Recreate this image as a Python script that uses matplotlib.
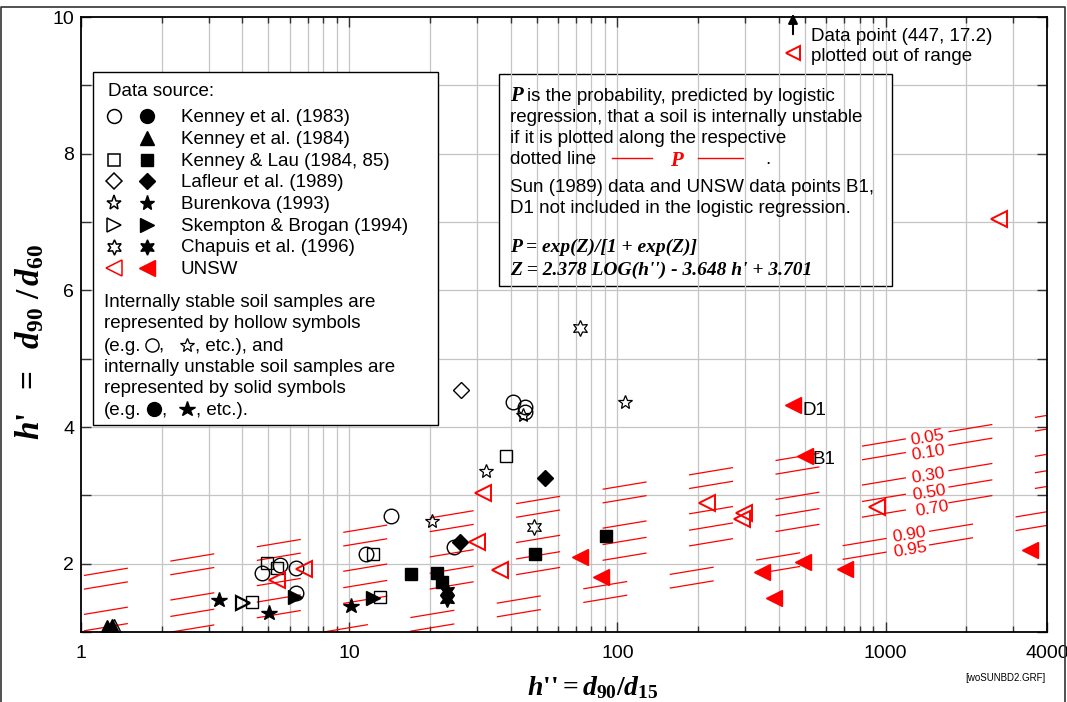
import numpy as np
import matplotlib
matplotlib.use("Agg")
import matplotlib.pyplot as plt
from matplotlib import transforms
from matplotlib.patches import Rectangle
from matplotlib.lines import Line2D
from matplotlib.ticker import FixedLocator, FixedFormatter, NullFormatter

W, H = 1067, 702

plt.rcParams["font.family"] = ["Liberation Sans", "DejaVu Sans"]
plt.rcParams["mathtext.fontset"] = "custom"
plt.rcParams["mathtext.it"] = "Liberation Serif:italic:bold"
plt.rcParams["mathtext.rm"] = "Liberation Serif:bold"
plt.rcParams["mathtext.bf"] = "Liberation Serif:bold"
plt.rcParams["lines.scale_dashes"] = False

RED = "#ff0000"
GRID = "#c4c4c4"
FS = 13.5

# ---- data: h'' = d90/d15 (x), h' = d90/d60 (y) ----
k83_hol_x = [4.73, 5.52, 6.33, 6.33, 11.55, 14.3, 24.6, 40.8, 45.2, 45.2]
k83_hol_y = [1.86, 1.98, 1.94, 1.57, 2.14, 2.70, 2.24, 4.37, 4.29, 4.22]

k84_sol_x = [1.25, 1.305]
k84_sol_y = [1.07, 1.09]
k84_hol_x = [1.33]
k84_hol_y = [1.09]

kl_hol_x = [4.34, 4.94, 5.40, 12.27, 13.0, 38.4]
kl_hol_y = [1.44, 2.01, 1.93, 2.14, 1.51, 3.58]
kl_sol_x = [17.0, 21.3, 22.2, 49.3, 90.7]
kl_sol_y = [1.85, 1.86, 1.73, 2.14, 2.41]

laf_hol_x = [26.1]
laf_hol_y = [4.54]
laf_sol_x = [25.9, 53.7]
laf_sol_y = [2.32, 3.25]

bur_hol_x = [20.4, 32.4, 44.5, 106.7]
bur_hol_y = [2.63, 3.36, 4.18, 4.37]
bur_sol_x = [3.27, 5.02, 10.15]
bur_sol_y = [1.47, 1.28, 1.38]

skb_hol_x = [4.02]
skb_hol_y = [1.42]
skb_sol_x = [6.28, 12.27]
skb_sol_y = [1.51, 1.50]

cha_hol_x = [48.9, 72.5]
cha_hol_y = [2.54, 5.45]
cha_sol_x = [23.2, 23.2]
cha_sol_y = [1.60, 1.48]

unsw_hol_x = [5.38, 6.79, 30.0, 31.5, 36.5, 216, 291.5, 296.6, 929, 2648]
unsw_hol_y = [1.76, 1.92, 2.32, 3.04, 1.91, 2.89, 2.65, 2.74, 2.83, 7.05]
unsw_sol_x = [72.5, 86.9, 346, 383.7, 492, 706, 3453, 451.6, 500.6]
unsw_sol_y = [2.10, 1.81, 1.88, 1.50, 2.02, 1.92, 2.20, 4.32, 3.58]

# probability lines: h' at h''=1 and at h''=4000
p_labels = ["0.05", "0.10", "0.30", "0.50", "0.70", "0.90", "0.95"]
p_left = [1.82, 1.62, 1.25, 1.01, 0.78, 0.41, 0.21]
p_right = [4.17, 3.97, 3.60, 3.36, 3.13, 2.76, 2.56]
p_lab_x = [1430, 1440, 1440, 1460, 1500, 1225, 1240]
p_lab_y = [3.84, 3.62, 3.28, 3.03, 2.81, 2.42, 2.20]
p_dash_offset = [61, 61, 61, 61, 61, 12, 12]

legend_rows = ["Kenney et al. (1983)", "Kenney et al. (1984)", "Kenney & Lau (1984, 85)",
               "Lafleur et al. (1989)", "Burenkova (1993)", "Skempton & Brogan (1994)",
               "Chapuis et al. (1996)", "UNSW"]

x_major = [1, 10, 100, 1000, 4000]
x_minor = [m * d for d in (1, 10, 100, 1000) for m in range(2, 10) if m * d < 4000]
y_major = [2, 4, 6, 8, 10]
y_minor = [1, 3, 5, 7, 9]

fig = plt.figure(figsize=(W / 100, H / 100), dpi=100)
ax = fig.add_axes([81 / W, 1 - 632 / H, (1047 - 81) / W, (632 - 17) / H])
ax.set_xscale("log")
ax.set_xlim(1, 4000)
ax.set_ylim(1, 10)
ax.set_autoscale_on(False)

PX = transforms.Affine2D().scale(1 / W, -1 / H).translate(0, 1) + fig.transFigure

# grid: horizontal lines sit under the note box, vertical ones over it
for yv in range(2, 10):
    ax.axhline(yv, color=GRID, lw=0.9, zorder=0.5)
for xv in x_minor + [10, 100, 1000]:
    ax.axvline(xv, color=GRID, lw=0.9, zorder=1.0)

ax.add_patch(Rectangle((499, 74), 393, 212, transform=PX, fc="white", ec="black",
                       lw=1.0, zorder=0.8, clip_on=False))

# probability lines
for lab, yl, yr, lx, ly, off in zip(p_labels, p_left, p_right, p_lab_x, p_lab_y, p_dash_offset):
    ax.plot([1, 4000], [yl, yr], color=RED, lw=0.9, zorder=2,
            linestyle=(off, (32.1, 31.0)))
    ax.text(lx, ly, lab, color=RED, fontsize=12.5, ha="center", va="center",
            rotation=9.4, rotation_mode="anchor", zorder=2.5)

HEX = (6, 1, 0)


def pts(x, y, marker, ms, fill, edge="black", mew=1.0):
    ax.plot(x, y, ls="none", marker=marker, ms=ms, mfc=fill, mec=edge, mew=mew, zorder=4)


pts(k83_hol_x, k83_hol_y, "o", 10.5, "none")
pts(k84_hol_x, k84_hol_y, "^", 10, "none")
pts(k84_sol_x, k84_sol_y, "^", 10, "black")
pts(kl_hol_x, kl_hol_y, "s", 8, "none")
pts(kl_sol_x, kl_sol_y, "s", 8.5, "black")
pts(laf_hol_x, laf_hol_y, "D", 8, "none")
pts(laf_sol_x, laf_sol_y, "D", 8, "black")
pts(bur_hol_x, bur_hol_y, "*", 10.5, "none", mew=0.9)
pts(bur_sol_x, bur_sol_y, "*", 11.5, "black")
pts(skb_hol_x, skb_hol_y, ">", 10, "none", mew=1.6)
pts(skb_sol_x, skb_sol_y, ">", 10, "black")
pts(cha_hol_x, cha_hol_y, HEX, 11.5, "none", mew=0.9)
pts(cha_sol_x, cha_sol_y, HEX, 11.5, "black")
pts(unsw_hol_x, unsw_hol_y, "<", 11, "none", edge=RED, mew=1.4)
pts(unsw_sol_x, unsw_sol_y, "<", 11, RED, edge=RED)

ax.text(802, 415, "D1", transform=PX, fontsize=FS, zorder=5)
ax.text(813, 464, "B1", transform=PX, fontsize=FS, zorder=5)


def mark(x, y, marker, ms, fill, edge="black", mew=1.0):
    ax.add_artist(Line2D([x], [y], transform=PX, ls="none", marker=marker, ms=ms,
                         mfc=fill, mec=edge, mew=mew, zorder=6, clip_on=False))


def txt(x, y, s, **kw):
    kw.setdefault("fontsize", FS)
    ax.text(x, y, s, transform=PX, va="baseline", zorder=6, clip_on=False, **kw)


# legend box
ax.add_patch(Rectangle((93, 72), 345, 353, transform=PX, fc="white", ec="black",
                       lw=1.0, zorder=3, clip_on=False))
txt(108, 96, "Data source:")
row_y = [122.3 + 21.7 * i for i in range(8)]
leg_marks = [("o", "o", 10), (None, "^", 10), ("s", "s", 9), ("D", "D", 8),
             ("*", "*", 11), (">", ">", 10), (HEX, HEX, 11), ("<", "<", 11)]
for (mh, ms_, sz), name, yb in zip(leg_marks, legend_rows, row_y):
    col = RED if name == "UNSW" else "black"
    if mh is not None:
        mark(114, yb - 6, mh, sz, "none", edge=col, mew=1.1)
    mark(147, yb - 6, ms_, sz, col, edge=col)
    txt(181, yb, name)

para = [(306.7, "Internally stable soil samples are"),
        (328.3, "represented by hollow symbols"),
        (371.7, "internally unstable soil samples are"),
        (393.3, "represented by solid symbols")]
for yb, s in para:
    txt(104, yb, s)
txt(104, 350.7, "(e.g.")
mark(152, 344.5, "o", 9.5, "none")
txt(158, 350.7, ",")
mark(187, 344.5, "*", 10.5, "none", mew=0.9)
txt(195, 350.7, ", etc.), and")
txt(104, 415, "(e.g.")
mark(154, 409, "o", 10, "black")
txt(161, 415, ",")
mark(187, 409, "*", 11.5, "black")
txt(196, 415, ", etc.).")

# note box text
SERIF = dict(family="Liberation Serif", style="italic", weight="bold")
txt(510, 100.7, "P", fontsize=15, **SERIF)
txt(527, 100.7, "is the probability, predicted by logistic")
txt(510, 121.7, "regression, that a soil is internally unstable")
txt(510, 143.3, "if it is plotted along the respective")
txt(510, 164.3, "dotted line")
ax.add_artist(Line2D([612, 652], [158, 158], transform=PX, color=RED, lw=1.0, zorder=6))
ax.add_artist(Line2D([698, 743], [158, 158], transform=PX, color=RED, lw=1.0, zorder=6))
txt(670, 166, "P", fontsize=15, color=RED, **SERIF)
txt(765, 164.3, ".")
txt(510, 191.7, "Sun (1989) data and UNSW data points B1,")
txt(510, 213.3, "D1 not included in the logistic regression.")
txt(510, 251.7, "P = exp(Z)/[1 + exp(Z)]", fontsize=14, **SERIF)
txt(510, 275, "Z = 2.378 LOG(h'') - 3.648 h' + 3.701", fontsize=14, **SERIF)

# out-of-range note
ax.annotate("", xy=(793, 11), xytext=(793, 37), xycoords=PX, textcoords=PX,
            arrowprops=dict(arrowstyle="-|>", color="black", lw=1.5, mutation_scale=14),
            annotation_clip=False, zorder=6)
mark(793, 53, "<", 10.5, "none", edge=RED, mew=1.4)
txt(811, 41, "Data point (447, 17.2)")
txt(811, 61, "plotted out of range")

# axes styling
ax.xaxis.set_major_locator(FixedLocator(x_major))
ax.xaxis.set_major_formatter(FixedFormatter([str(v) for v in x_major]))
ax.xaxis.set_minor_locator(FixedLocator(x_minor))
ax.xaxis.set_minor_formatter(NullFormatter())
ax.yaxis.set_major_locator(FixedLocator(y_major))
ax.yaxis.set_major_formatter(FixedFormatter([str(v) for v in y_major]))
ax.yaxis.set_minor_locator(FixedLocator(y_minor))
ax.tick_params(which="both", direction="in", top=True, right=True, width=1.0,
               labelsize=14, color="#333333")
ax.tick_params(axis="x", which="major", length=7, pad=9)
ax.tick_params(axis="x", which="minor", length=4.5)
ax.tick_params(axis="y", which="both", length=7, pad=5)
for sp in ax.spines.values():
    sp.set_linewidth(1.3)

ax.text(593, 688, r"$h\text{''} = d_{\mathit{90}}/d_{\mathit{15}}$", transform=PX,
        fontsize=20, ha="center", va="center", clip_on=False)
ax.text(30, 342, r"$h\text{'}\ \ =\ \ d_{\mathit{90}}\ /\,d_{\mathit{60}}$", transform=PX,
        fontsize=24, ha="center", va="center", rotation=90, clip_on=False)
ax.text(1045, 681, "[woSUNBD2.GRF]", transform=PX, fontsize=7, ha="right",
        clip_on=False)

# outer frame
ax.add_artist(Line2D([1, 1, 1065, 1065], [710, 7, 7, 710], transform=PX,
                     color="#333333", lw=1.2, clip_on=False))

fig.savefig("out.png", dpi=100)
